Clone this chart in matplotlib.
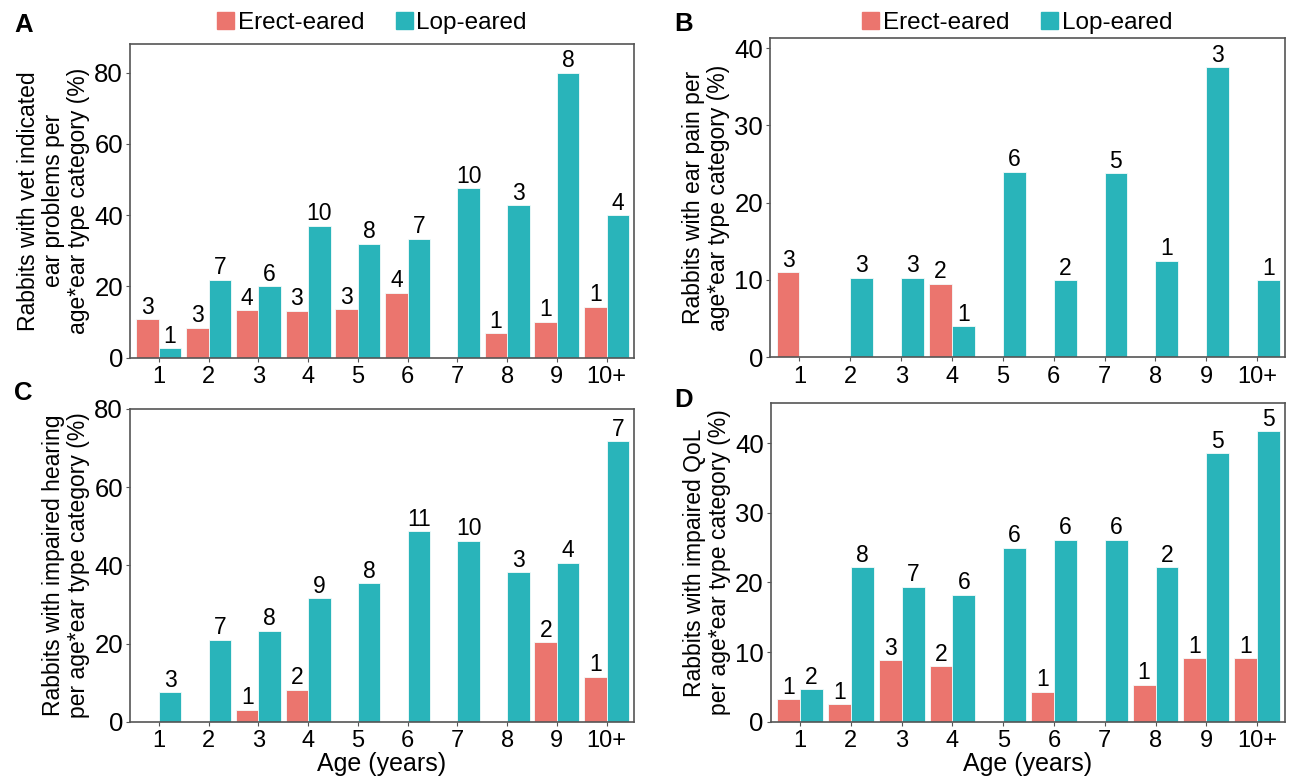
import matplotlib
matplotlib.use("Agg")
import matplotlib.pyplot as plt
from matplotlib.patches import Patch
import numpy as np

plt.rcParams["font.family"] = ["Liberation Sans", "DejaVu Sans"]

ages = ["1", "2", "3", "4", "5", "6", "7", "8", "9", "10+"]

# panel A: vet indicated ear problems (%)
a_erect = [10.7, 8.4, 13.3, 13.1, 13.6, 18.2, None, 6.8, 10.0, 14.3]
a_lop = [2.6, 21.9, 20.1, 37.0, 32.0, 33.4, 47.5, 42.8, 80.0, 40.0]
a_erect_n = [3, 3, 4, 3, 3, 4, None, 1, 1, 1]
a_lop_n = [1, 7, 6, 10, 8, 7, 10, 3, 8, 4]

# panel B: ear pain (%)
b_erect = [11.0, None, None, 9.5, None, None, None, None, None, None]
b_lop = [None, 10.3, 10.3, 4.0, 24.0, 10.0, 23.8, 12.5, 37.5, 10.0]
b_erect_n = [3, None, None, 2, None, None, None, None, None, None]
b_lop_n = [None, 3, 3, 1, 6, 2, 5, 1, 3, 1]

# panel C: impaired hearing (%)
c_erect = [None, None, 3.1, 8.2, None, None, None, None, 20.4, 11.5]
c_lop = [7.5, 21.0, 23.3, 31.6, 35.4, 48.7, 46.3, 38.2, 40.7, 71.8]
c_erect_n = [None, None, 1, 2, None, None, None, None, 2, 1]
c_lop_n = [3, 7, 8, 9, 8, 11, 10, 3, 4, 7]

# panel D: impaired QoL (%)
d_erect = [3.2, 2.5, 8.8, 8.0, None, 4.3, None, 5.3, 9.1, 9.1]
d_lop = [4.7, 22.2, 19.4, 18.2, 25.0, 26.1, 26.1, 22.2, 38.5, 41.7]
d_erect_n = [1, 1, 3, 2, None, 1, None, 1, 1, 1]
d_lop_n = [2, 8, 7, 6, 6, 6, 6, 2, 5, 5]

ERECT = "#EB756E"
LOP = "#29B4BA"
W, H = 1291, 778


def rect(l, t, r, b):
    return [l / W, 1 - b / H, (r - l) / W, (b - t) / H]


def panel(fig, box, erect, lop, erect_n, lop_n, ymax, yticks, ylabel,
          letter, letter_xy, legend_y=None, xlabel=False):
    ax = fig.add_axes(rect(*box))
    x = np.arange(1, len(ages) + 1)
    w = 0.45
    for vals, ns, off, col in [(erect, erect_n, -w / 2, ERECT),
                               (lop, lop_n, w / 2, LOP)]:
        for xi, v, n in zip(x, vals, ns):
            if v is None:
                continue
            ax.bar(xi + off, v, width=w, color=col, edgecolor="#f4fbfb",
                   linewidth=0.6)
            ax.annotate(str(n), (xi + off, v), xytext=(0, 0.3),
                        textcoords="offset points", ha="center", va="bottom",
                        fontsize=16.5)
    ax.set_xlim(0.42, 10.55)
    ax.set_ylim(0, ymax)
    ax.set_xticks(x)
    ax.set_xticklabels(ages)
    ax.set_yticks(yticks)
    ax.tick_params(axis="x", labelsize=17, length=3, width=0.8,
                   color="#555555", pad=3)
    ax.tick_params(axis="y", labelsize=18.5, length=3, width=0.8,
                   color="#555555", pad=2)
    for s in ax.spines.values():
        s.set_color("#555555")
        s.set_linewidth(1.2)
    ax.set_ylabel(ylabel, fontsize=16.5, linespacing=1.12, labelpad=3)
    if xlabel:
        ax.set_xlabel("Age (years)", fontsize=18, labelpad=0)
    fig.text(letter_xy[0] / W, 1 - letter_xy[1] / H, letter, fontsize=18.5,
             fontweight="bold", ha="center", va="center")
    if legend_y is not None:
        handles = [Patch(color=ERECT, label="Erect-eared"),
                   Patch(color=LOP, label="Lop-eared")]
        ax.legend(handles=handles, loc="center", ncol=2, frameon=False,
                  fontsize=17.5, handlelength=0.7, handleheight=0.7,
                  handletextpad=0.15, columnspacing=1.3,
                  bbox_to_anchor=(0.48, (box[3] - legend_y) / (box[3] - box[1])))
    return ax


fig = plt.figure(figsize=(W / 100, H / 100), dpi=100)

panel(fig, (130, 44, 634, 357.5), a_erect, a_lop, a_erect_n, a_lop_n,
      88.1, [0, 20, 40, 60, 80],
      "Rabbits with vet indicated\near problems per\nage*ear type category (%)",
      "A", (24, 25), legend_y=23)
panel(fig, (770, 38, 1285, 357.3), b_erect, b_lop, b_erect_n, b_lop_n,
      41.3, [0, 10, 20, 30, 40],
      "Rabbits with ear pain per\nage*ear type category (%)",
      "B", (684, 24), legend_y=23)
panel(fig, (130, 409, 634, 721.7), c_erect, c_lop, c_erect_n, c_lop_n,
      80, [0, 20, 40, 60, 80],
      "Rabbits with impaired hearing\nper age*ear type category (%)",
      "C", (23, 393), xlabel=True)
panel(fig, (770.7, 403.3, 1285, 721.7), d_erect, d_lop, d_erect_n, d_lop_n,
      45.7, [0, 10, 20, 30, 40],
      "Rabbits with impaired QoL\nper age*ear type category (%)",
      "D", (684, 400), xlabel=True)

fig.savefig("out.png", dpi=100)
